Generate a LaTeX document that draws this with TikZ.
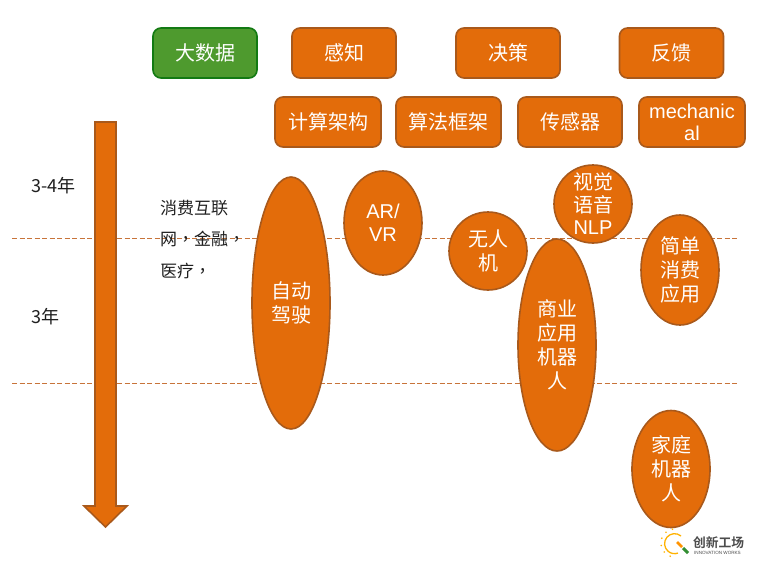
\documentclass[tikz,border=0pt]{standalone}
\usepackage{fontspec}
\setmainfont{Noto Sans CJK SC}
\newfontfamily\cjktc{Noto Sans CJK TC}
\newfontfamily\cjkbold[BoldFont=*]{Noto Sans CJK SC Bold}
\newfontfamily\latinf{Liberation Sans}
\definecolor{orfill}{HTML}{E36C0A}
\definecolor{oredge}{HTML}{A9591B}
\definecolor{grfill}{HTML}{4E9A2E}
\definecolor{gredge}{HTML}{137A13}
\definecolor{dashc}{HTML}{C8743A}
\definecolor{txt}{HTML}{1F1F1F}
\usetikzlibrary{shapes.geometric}
\tikzset{
 x=1pt,y=-1pt,
 boxo/.style={draw=oredge,line width=1.6pt,fill=orfill,rounded corners=8pt,minimum width=104pt,minimum height=50pt,inner sep=0pt,text=white,font=\fontsize{20}{23}\selectfont,align=center},
 boxg/.style={boxo,draw=gredge,fill=grfill},
 ell/.style={draw=oredge,line width=1.6pt,fill=orfill,ellipse,inner sep=-30pt,text=white,font=\fontsize{20}{24}\selectfont,align=center},
 lab/.style={text=txt,font=\fontsize{18}{20}\selectfont,inner sep=0pt},
 side/.style={text=txt,font=\cjktc\fontsize{17}{31.5}\selectfont,inner sep=0pt,align=left,text width=90pt},
 guide/.style={draw=dashc,line width=0.9pt,dash pattern=on 5pt off 2.5pt},
 logot/.style={inner sep=0pt,text=black!70},
}
\begin{document}
\begin{tikzpicture}
\useasboundingbox (0,0) rectangle (771,573);
\fill[white] (0,0) rectangle (771,573);
\coordinate (g1a) at (12,238); \coordinate (g1b) at (738,238);
\coordinate (g2a) at (12,383); \coordinate (g2b) at (738,383);
\draw[guide] (g1a) -- (g1b);
\draw[guide] (g2a) -- (g2b);
\draw[draw=oredge,line width=1.6pt,fill=orfill,line join=miter]
 (95,122) -- (116,122) -- (116,506) -- (127,506) -- (105.5,527) -- (84,506) -- (95,506) -- cycle;
\node[boxg] (bd) at (205,53) {大数据};
\node[boxo] (gz) at (344,53) {感知};
\node[boxo] (jc) at (508,53) {决策};
\node[boxo] (fk) at (671.5,53) {反馈};
\node[boxo,minimum width=106pt] (js) at (328,122) {计算架构};
\node[boxo,minimum width=105pt] (sf) at (448.5,122) {算法框架};
\node[boxo] (cg) at (570,122) {传感器};
\node[boxo,minimum width=106pt,font=\latinf\fontsize{20}{23}\selectfont] (me) at (692,122) {mechanic\\[-1pt]al};
\node[lab,anchor=west] (t34) at (31,186) {3-4年};
\node[lab,anchor=west] (t3) at (31,317) {3年};
\node[side,anchor=north west] (s) at (160,200) {消费互联\\网，金融，\\医疗，};
\node[ell,minimum width=78pt,minimum height=252pt] (zd) at (291,303) {自动\\驾驶};
\node[ell,minimum width=78pt,minimum height=104pt,font=\latinf\fontsize{20}{23}\selectfont] (ar) at (383,223) {AR/\\VR};
\node[ell,minimum width=78pt,minimum height=78pt] (wr) at (488,251) {无人\\机};
\node[ell,minimum width=78pt,minimum height=212pt] (sy) at (557,345) {商业\\应用\\机器\\人};
\node[ell,minimum width=78pt,minimum height=78pt,font=\fontsize{20}{22.5}\selectfont] (sj) at (593,204) {视觉\\语音\\{\latinf NLP}};
\node[ell,minimum width=78pt,minimum height=110pt] (jd) at (680,270) {简单\\消费\\应用};
\node[ell,minimum width=78pt,minimum height=117pt] (jt) at (671,469) {家庭\\机器\\人};
% logo
\draw[orange!60!yellow,line width=1.3pt] (681,536) arc (-50:-290:10);
\foreach \a in {100,130,160,190,220,250}
  \fill[orange!60!yellow] ({675+14*cos(\a)},{543-14*sin(\a)}) circle (0.9pt);
\draw[orange!85!yellow,line width=2.6pt] (677,542) -- (682,547);
\draw[green!45!black!80,line width=3pt] (683,548) -- (688,553);
\node[logot,anchor=west,font=\cjkbold\fontsize{12.75}{14}\selectfont] (lg1) at (693,543) {创新工场};
\node[logot,anchor=west,font=\latinf\fontsize{4.6}{5}\selectfont] (lg2) at (694,553) {INNOVATION WORKS};
\end{tikzpicture}
\end{document}
